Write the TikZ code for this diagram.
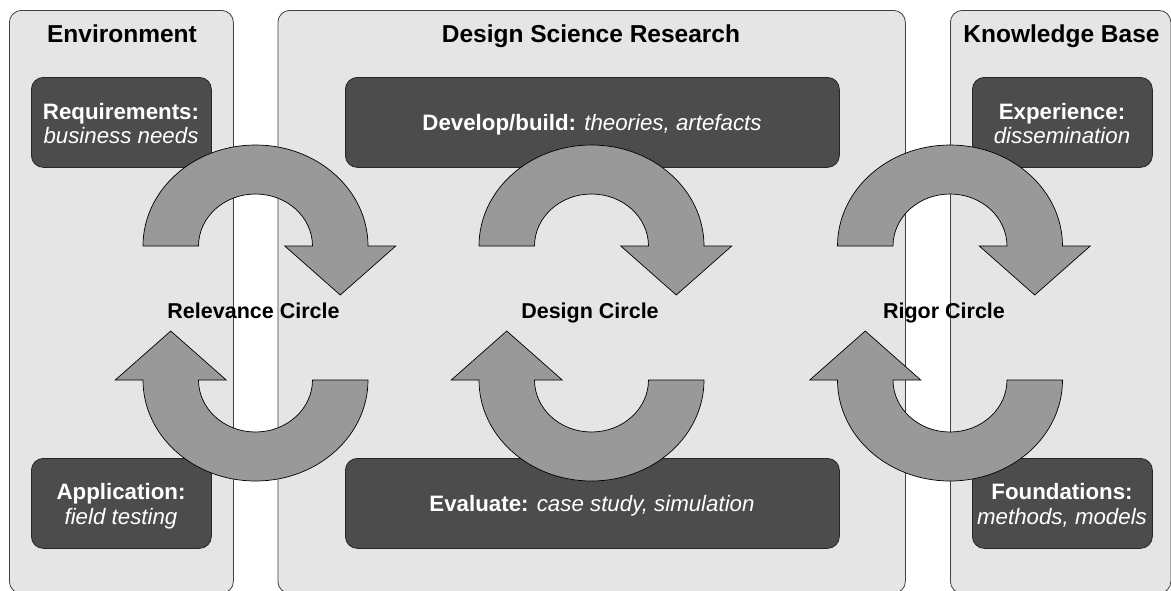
\documentclass[tikz,border=0pt]{standalone}
\usepackage{fontspec}
\setmainfont{Liberation Sans}
\tikzset{
 panel/.style={draw=black!75, fill=black!10, line width=0.8pt, rounded corners=12pt, anchor=north west, inner sep=0pt},
 darkbox/.style={draw=black!85, fill=black!70, line width=0.8pt, rounded corners=12pt, anchor=north west, inner sep=0pt},
 cyclearrow/.style={draw=black, fill=black!40, line width=0.7pt, line join=miter},
 paneltitle/.style={font=\fontsize{24.5}{28}\selectfont\bfseries, text=black, anchor=base, inner sep=0pt},
 boxtext/.style={font=\fontsize{22.3}{25}\selectfont, text=white, anchor=base, inner sep=0pt},
 circlelabel/.style={font=\fontsize{21.5}{25}\selectfont\bfseries, text=black, anchor=base, inner sep=0pt}
}
\newcommand\DSRtopcycle[2]{%
 \draw[cyclearrow] ({#1-112.5},#2) arc[start angle=180,end angle=360,x radius=112.5,y radius=101]
  -- ({#1+140.25},#2) -- ({#1+84.75},{#2+49}) -- ({#1+29.25},#2) -- ({#1+57},#2)
  arc[start angle=360,end angle=180,x radius=57,y radius=52] -- cycle;}
\newcommand\DSRbottomcycle[2]{%
 \draw[cyclearrow] ({#1+112.5},#2) arc[start angle=0,end angle=180,x radius=112.5,y radius=101]
  -- ({#1-140.25},#2) -- ({#1-84.75},{#2-49}) -- ({#1-29.25},#2) -- ({#1-57},#2)
  arc[start angle=180,end angle=0,x radius=57,y radius=52] -- cycle;}
\begin{document}
\begin{tikzpicture}[x=1pt,y=-1pt]
\useasboundingbox (0,0) rectangle (1171,590);
\fill[white] (0,0) rectangle (1171,590);
% panels
\node[panel, minimum width=224pt, minimum height=583pt] (env) at (9,10) {};
\node[panel, minimum width=627.5pt, minimum height=583pt] (dsr) at (277.5,10) {};
\node[panel, minimum width=220.5pt, minimum height=583pt] (kb) at (950,10) {};
\node[paneltitle] (envtitle) at (122,42) {Environment};
\node[paneltitle] (dsrtitle) at (591,42) {Design Science Research};
\node[paneltitle] (kbtitle) at (1061.5,42) {Knowledge Base};
% boxes
\node[darkbox, minimum width=180pt, minimum height=90pt] (req) at (31,77) {};
\node[darkbox, minimum width=180pt, minimum height=90pt] (app) at (31,458) {};
\node[darkbox, minimum width=494pt, minimum height=90pt] (dev) at (345,77) {};
\node[darkbox, minimum width=494pt, minimum height=90pt] (eval) at (345,458) {};
\node[darkbox, minimum width=180pt, minimum height=90pt] (exp) at (972,77) {};
\node[darkbox, minimum width=180pt, minimum height=90pt] (found) at (972,458) {};
% arrows
\DSRtopcycle{255.5}{246}
\DSRbottomcycle{255.5}{380}
\DSRtopcycle{591.5}{246}
\DSRbottomcycle{591.5}{380}
\DSRtopcycle{950}{246}
\DSRbottomcycle{950}{380}
% box texts
\node[boxtext] (reqa) at (121,119) {\textbf{Requirements:}};
\node[boxtext] (reqb) at (121,143.5) {\textit{business needs}};
\node[boxtext] (appa) at (121,499) {\textbf{Application:}};
\node[boxtext] (appb) at (121,524) {\textit{field testing}};
\node[boxtext] (devtext) at (592,130.5) {\textbf{Develop/build:} \textit{theories, artefacts}};
\node[boxtext] (evaltext) at (592,511.5) {\textbf{Evaluate:} \textit{case study, simulation}};
\node[boxtext] (expa) at (1062,119) {\textbf{Experience:}};
\node[boxtext] (expb) at (1062,143.5) {\textit{dissemination}};
\node[boxtext] (founda) at (1062,499) {\textbf{Foundations:}};
\node[boxtext] (foundb) at (1062,524) {\textit{methods, models}};
% circle labels
\node[circlelabel] (relc) at (253.5,318) {Relevance Circle};
\node[circlelabel] (desc) at (590,318) {Design Circle};
\node[circlelabel] (rigc) at (944,318) {Rigor Circle};
\end{tikzpicture}
\end{document}
